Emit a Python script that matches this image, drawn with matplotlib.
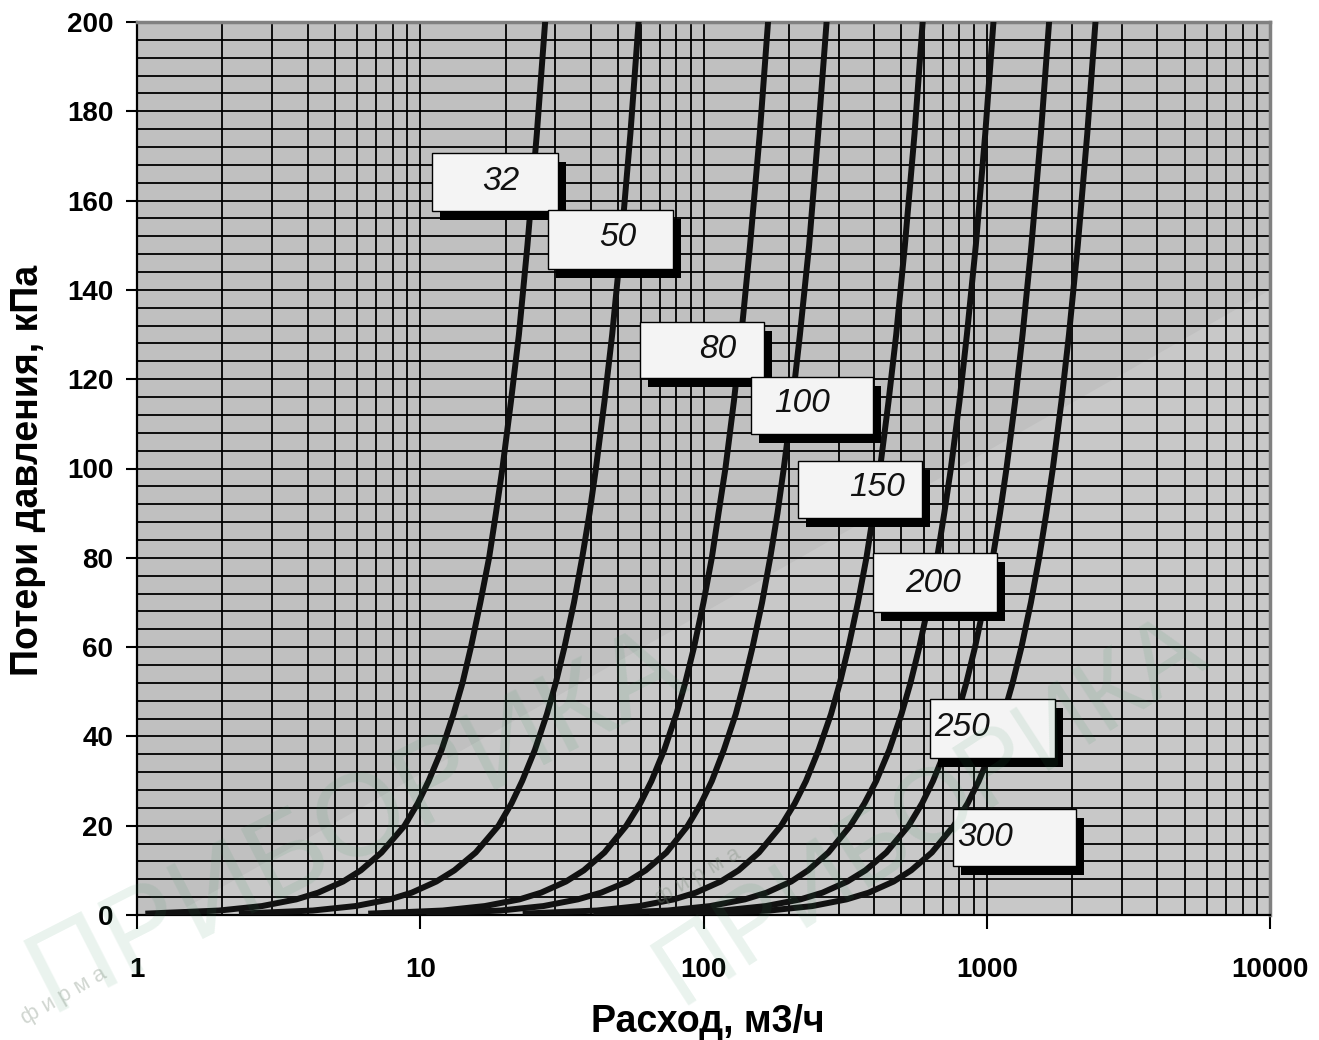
import matplotlib
matplotlib.use('Agg')
import matplotlib.pyplot as plt
from matplotlib.patches import Rectangle, Polygon
from matplotlib.ticker import FixedLocator, FixedFormatter, LogLocator, MultipleLocator, NullFormatter

plt.rcParams['font.family'] = ['Liberation Sans', 'DejaVu Sans']

# ---------------- data ----------------
dn_labels = ['32', '50', '80', '100', '150', '200', '250', '300']
# pressure-loss levels, kPa
dp_levels = [0.3, 1, 2, 3.5, 5, 7.5, 10, 14, 20, 25, 30, 37, 45, 52, 60, 70, 80, 90,
             100, 115, 130, 150, 175, 200, 215]
# flow (m3/h) at each pressure level, per nominal diameter
flow_dn32 = [1.07, 1.95, 2.76, 3.65, 4.36, 5.34, 6.17, 7.30, 8.8, 9.8, 10.7, 11.9, 13.1, 14.1,
             15.1, 16.3, 17.5, 18.5, 19.5, 20.9, 22.3, 23.9, 25.8, 27.6, 28.6]
flow_dn50 = [2.29, 4.17, 5.9, 7.81, 9.33, 11.4, 13.2, 15.7, 18.9, 21.0, 22.9, 25.4, 28.0, 30.1,
             32.3, 34.9, 37.3, 39.6, 41.7, 44.7, 47.6, 51.1, 55.2, 59.0, 61.2]
flow_dn80 = [6.55, 12.0, 16.9, 22.4, 26.7, 32.7, 37.8, 44.7, 53.4, 59.8, 65.5, 72.7, 80.2, 86.2,
             92.6, 100, 107, 113, 119.5, 128, 136, 146, 158, 169, 175]
flow_dn100 = [10.5, 19.2, 27.2, 36.0, 43.5, 54, 62.5, 74, 88, 98, 107, 118, 130, 139,
              149, 161, 172, 182.5, 192, 206, 219, 236, 254, 272, 282]
flow_dn150 = [23.0, 42.0, 59.4, 78.6, 93.9, 115, 133, 157, 188, 210, 230, 255, 282, 303,
              325, 351, 376, 398, 420, 450, 479, 514, 556, 594, 616]
flow_dn200 = [40.9, 74.7, 105.6, 140, 167, 204, 234, 276, 330, 370, 407, 453, 500, 538,
              578, 625, 668, 708, 747, 801, 851, 915, 988, 1056, 1095]
flow_dn250 = [64.3, 117, 166, 220, 263, 322, 373, 442, 530, 591, 646, 716, 788, 847,
              909, 982, 1050, 1114, 1174, 1259, 1338, 1438, 1553, 1660, 1721]
flow_dn300 = [93.7, 171, 242, 320, 383, 469, 541, 640, 765, 856, 937, 1041, 1148, 1234,
              1326, 1432, 1531, 1623, 1711, 1835, 1951, 2096, 2264, 2420, 2509]
flows = [flow_dn32, flow_dn50, flow_dn80, flow_dn100, flow_dn150, flow_dn200, flow_dn250, flow_dn300]

x_ticks = [1, 10, 100, 1000, 10000]
x_tick_labels = ['1', '10', '100', '1000', '10000']
y_ticks = [0, 20, 40, 60, 80, 100, 120, 140, 160, 180, 200]

# label boxes (pixel positions of the reference layout)
box_px = [(432, 153, 558, 211), (548, 210, 673, 269), (640, 322, 764, 378), (751, 377, 873, 434),
          (798, 461, 922, 518), (873, 553, 997, 612), (930, 699, 1055, 758), (953, 809, 1076, 866)]
text_px = [(501, 181), (618, 238), (718, 349), (802, 404), (877, 488), (933, 583), (962, 728), (985, 838)]

# ---------------- figure ----------------
W, H = 1319, 1040
AX_L, AX_R, AX_T, AX_B = 137, 1270, 22, 915
fig = plt.figure(figsize=(W / 100, H / 100), dpi=100)
fig.patch.set_facecolor('white')
ax = fig.add_axes([AX_L / W, (H - AX_B) / H, (AX_R - AX_L) / W, (AX_B - AX_T) / H])
ax.set_facecolor('#c0c0c0')
ax.set_xscale('log')
ax.set_xlim(1, 10000)
ax.set_ylim(0, 200)

ax.xaxis.set_major_locator(FixedLocator(x_ticks))
ax.xaxis.set_major_formatter(FixedFormatter(x_tick_labels))
ax.xaxis.set_minor_locator(LogLocator(base=10, subs=range(2, 10), numticks=20))
ax.xaxis.set_minor_formatter(NullFormatter())
ax.yaxis.set_major_locator(FixedLocator(y_ticks))
ax.yaxis.set_minor_locator(MultipleLocator(4))

ax.set_axisbelow(True)
ax.grid(True, which='both', color='black', linewidth=1.3)
ax.tick_params(axis='x', which='major', direction='out', length=10, width=1.5, pad=20, labelsize=20)
ax.tick_params(axis='x', which='minor', length=0)
ax.tick_params(axis='y', which='major', direction='out', length=8, width=1.5, pad=9, labelsize=20)
ax.tick_params(axis='y', which='minor', length=0)
for lab in ax.get_xticklabels() + ax.get_yticklabels():
    lab.set_fontweight('bold')

for s in ['left', 'bottom']:
    ax.spines[s].set_color('black')
    ax.spines[s].set_linewidth(1.6)
for s in ['top', 'right']:
    ax.spines[s].set_color('#808080')
    ax.spines[s].set_linewidth(2.5)

# lighter diagonal glare of the reference
def axfrac(px, py):
    return ((px - AX_L) / (AX_R - AX_L), (AX_B - py) / (AX_B - AX_T))

glare = Polygon([axfrac(173, 915), axfrac(1270, 290), axfrac(1270, 915)], closed=True,
                transform=ax.transAxes, facecolor='white', alpha=0.13, edgecolor='none', zorder=0.2)
ax.add_patch(glare)

for q in flows:
    ax.plot(q, dp_levels, color='#111111', linewidth=4.3, solid_capstyle='butt',
            solid_joinstyle='round', zorder=3)

# label boxes with drop shadows
sx, sy = 8 / (AX_R - AX_L), 9 / (AX_B - AX_T)
for lab, (x0, y0, x1, y1), (tx, ty) in zip(dn_labels, box_px, text_px):
    fx0, fy1 = axfrac(x0, y1)
    fx1, fy0 = axfrac(x1, y0)
    w, h = fx1 - fx0, fy0 - fy1
    ax.add_patch(Rectangle((fx0 + sx, fy1 - sy), w, h, transform=ax.transAxes,
                           facecolor='black', edgecolor='none', zorder=5, clip_on=False))
    ax.add_patch(Rectangle((fx0, fy1), w, h, transform=ax.transAxes,
                           facecolor='#f4f4f4', edgecolor='black', linewidth=1.0, zorder=6, clip_on=False))
    fx, fy = axfrac(tx, ty)
    ax.text(fx, fy, lab, transform=ax.transAxes, ha='center', va='center',
            fontsize=24, fontstyle='italic', color='#111111', zorder=7)

# axis titles
fig.text(708 / W, 1 - 1022 / H, 'Расход, м3/ч', ha='center', va='center',
         fontsize=27, fontweight='bold', color='black')
fig.text(28 / W, 1 - 470 / H, 'Потери давления, кПа', ha='center', va='center',
         rotation=90, fontsize=27, fontweight='bold', color='black')

# faint watermark
wm_color = '#2e8b57'
fig.text(50 / W, 1 - 1012 / H, 'ПРИБОРИКА', rotation=27, rotation_mode='anchor',
         ha='left', va='baseline', fontsize=84, color=wm_color, alpha=0.10, zorder=10)
fig.text(680 / W, 1 - 1005 / H, 'ПРИБОРИКА', rotation=33, rotation_mode='anchor',
         ha='left', va='baseline', fontsize=74, color=wm_color, alpha=0.10, zorder=10)
fig.text(25 / W, 1 - 1025 / H, 'ф и р м а', rotation=30, rotation_mode='anchor',
         ha='left', va='baseline', fontsize=16, color='#7a8a7a', alpha=0.35, zorder=10)
fig.text(660 / W, 1 - 905 / H, 'ф и р м а', rotation=30, rotation_mode='anchor',
         ha='left', va='baseline', fontsize=16, color='#7a8a7a', alpha=0.35, zorder=10)

fig.savefig('out.png', dpi=100)
